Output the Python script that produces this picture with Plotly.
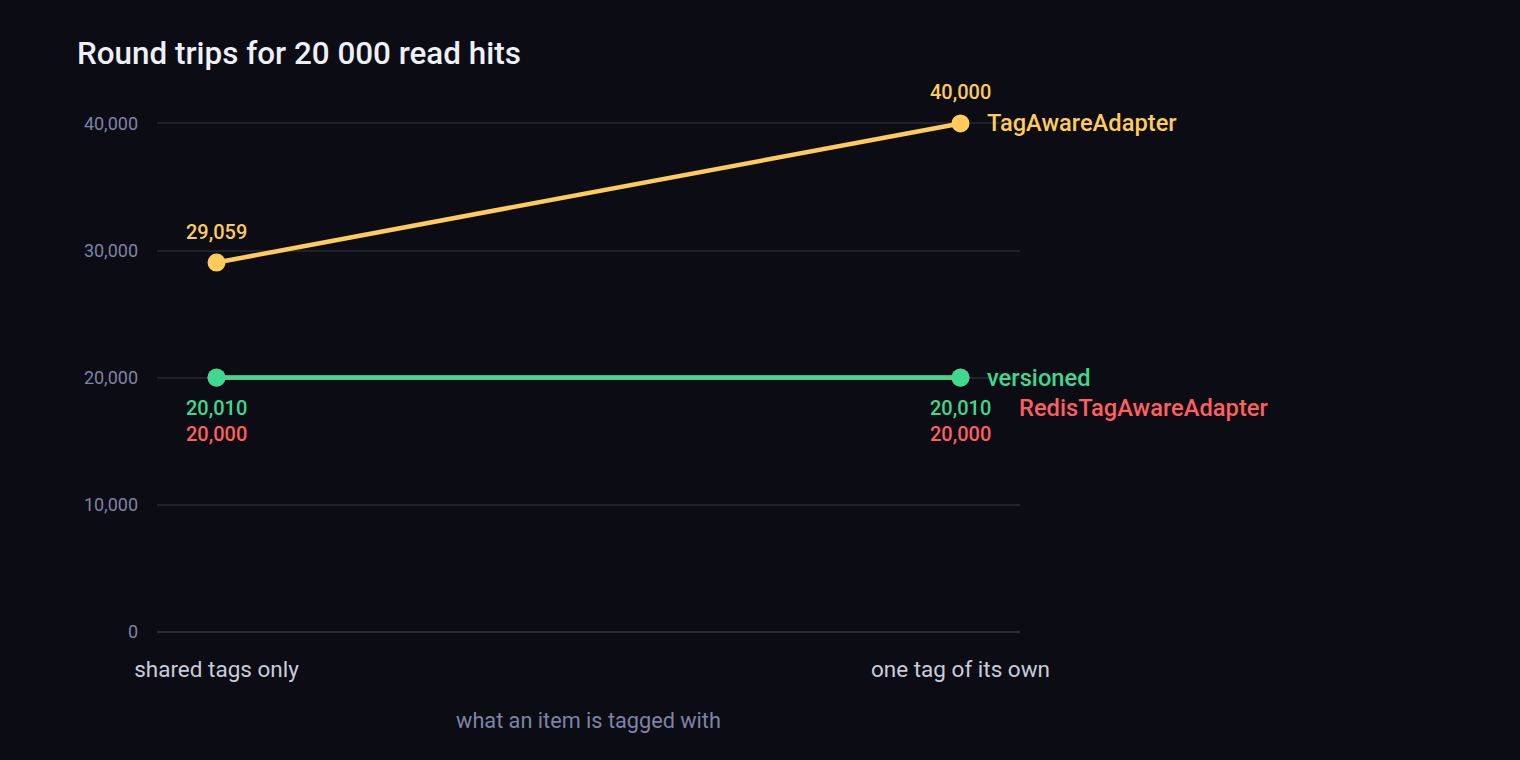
import plotly.graph_objects as go

categories = ["shared tags only", "one tag of its own"]
series_names = ["RedisTagAwareAdapter", "versioned", "TagAwareAdapter"]
redis_vals = [20000, 20000]
versioned_vals = [20010, 20010]
tagaware_vals = [29059, 40000]
y_ticks = [0, 10000, 20000, 30000, 40000]

colors = {"RedisTagAwareAdapter": "#ff5f5f", "versioned": "#3ed98f", "TagAwareAdapter": "#ffcb5a"}
values = {"RedisTagAwareAdapter": redis_vals, "versioned": versioned_vals, "TagAwareAdapter": tagaware_vals}

FONT = "Roboto"
BG = "#0b0c14"
xs = [0, 1]

fig = go.Figure()
for name in series_names:
    fig.add_trace(go.Scatter(
        x=xs, y=values[name], mode="lines+markers", name=name,
        line=dict(color=colors[name], width=4.5),
        marker=dict(color=colors[name], size=18),
        hoverinfo="skip", showlegend=False,
    ))

annotations = []
lab = dict(size=20, family=FONT, weight=500)
for i, v in enumerate(tagaware_vals):
    annotations.append(dict(x=xs[i], y=v, text=f"{v:,}", showarrow=False, yshift=31,
                            font=dict(color=colors["TagAwareAdapter"], **lab)))
for i, v in enumerate(versioned_vals):
    annotations.append(dict(x=xs[i], y=v, text=f"{v:,}", showarrow=False, yshift=-30,
                            font=dict(color=colors["versioned"], **lab)))
for i, v in enumerate(redis_vals):
    annotations.append(dict(x=xs[i], y=v, text=f"{v:,}", showarrow=False, yshift=-56,
                            font=dict(color=colors["RedisTagAwareAdapter"], **lab)))
nm = dict(size=23.7, family=FONT, weight=500)
annotations.append(dict(x=xs[-1], y=tagaware_vals[-1], text="TagAwareAdapter", showarrow=False,
                        xanchor="left", xshift=25, font=dict(color=colors["TagAwareAdapter"], **nm)))
annotations.append(dict(x=xs[-1], y=versioned_vals[-1], text="versioned", showarrow=False,
                        xanchor="left", xshift=25, font=dict(color=colors["versioned"], **nm)))
annotations.append(dict(x=xs[-1], y=redis_vals[-1], text="RedisTagAwareAdapter", showarrow=False,
                        xanchor="left", xshift=57, yshift=-30,
                        font=dict(color=colors["RedisTagAwareAdapter"], **nm)))

fig.update_layout(
    width=1520, height=760,
    paper_bgcolor=BG, plot_bgcolor=BG,
    margin=dict(l=157, r=500, t=98, b=128),
    title=dict(text="Round trips for 20 000 read hits", x=77/1520, xanchor="left",
               y=1-53/760, yanchor="middle",
               font=dict(family=FONT, size=31.4, color="#eef0f8", weight=500)),
    annotations=annotations,
    font=dict(family=FONT),
)
fig.update_xaxes(
    range=[-0.08, 1.08], tickvals=xs, ticktext=categories, showgrid=False, zeroline=False,
    showline=False, tickfont=dict(size=22.5, color="#c9ccdc", family=FONT), ticks="",
    ticklabelstandoff=21,
    title=dict(text="what an item is tagged with", font=dict(size=21.7, color="#7f83a8", family=FONT),
               standoff=32),
)
fig.update_yaxes(
    range=[0, 42000], tickvals=y_ticks, tickformat=",", showgrid=True, gridcolor="#20212d",
    gridwidth=2, zeroline=True, zerolinecolor="#2c2d3a", zerolinewidth=2, showline=False,
    tickfont=dict(size=18, color="#7f83a8", family=FONT), ticks="", ticklabelstandoff=18,
)

fig.write_html("out.html", config={"displayModeBar": False},
               post_script="document.body.style.margin='0';document.body.style.background='#0b0c14';")
